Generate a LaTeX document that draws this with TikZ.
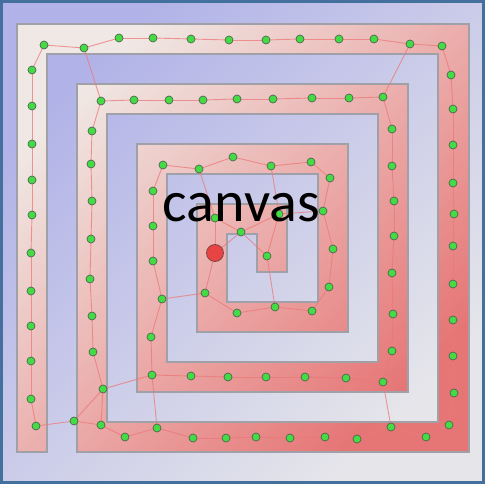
\documentclass[tikz,border=0pt]{standalone}
\usepackage{fontspec}
\setmainfont{Carlito}
\pgfdeclarelayer{bg}
\pgfdeclarelayer{edges}
\pgfsetlayers{bg,edges,main}
\definecolor{bgA}{RGB}{176,178,232}
\definecolor{bgB}{RGB}{230,230,234}
\definecolor{frameblue}{RGB}{68,112,158}
\definecolor{spA}{RGB}{240,232,228}
\definecolor{spB}{RGB}{230,118,118}
\definecolor{spborder}{RGB}{160,160,168}
\definecolor{nodegreen}{RGB}{68,220,68}
\definecolor{nodeborder}{RGB}{80,100,80}
\definecolor{dotred}{RGB}{232,68,68}
\definecolor{redborder}{RGB}{130,70,70}
\definecolor{edgered}{RGB}{236,120,120}
\begin{document}
\begin{tikzpicture}[x=1pt,y=-1pt,
  gn/.style={circle,draw=nodeborder,fill=nodegreen,line width=0.7pt,minimum size=8pt,inner sep=0pt},
  rn/.style={circle,draw=redborder,fill=dotred,line width=0.8pt,minimum size=17pt,inner sep=0pt},
  ed/.style={draw=edgered,line width=0.9pt,opacity=0.75},
  wall/.style={draw=spborder,line width=1.4pt,line join=miter}]
\useasboundingbox (0,0) rectangle (485,484);
\begin{pgfonlayer}{bg}
\shade[top color=bgA,bottom color=bgB,shading angle=45] (0,0) rectangle (485,484);
\draw[frameblue,line width=2.6pt] (1.3,1.3) rectangle (483.7,482.7);
\shade[top color=spA,bottom color=spB,shading angle=45]
 (17,452) -- (17,24) -- (469,24) -- (469,452) -- (77,452) -- (77,84) -- (408,84) -- (408,392) -- (137,392) -- (137,144) -- (348,144) -- (348,332) -- (197,332) -- (197,204) -- (287,204) -- (287,272) -- (257,272) -- (257,234) -- (227,234) -- (227,302) -- (318,302) -- (318,174) -- (167,174) -- (167,362) -- (378,362) -- (378,114) -- (107,114) -- (107,422) -- (438,422) -- (438,54) -- (47,54) -- (47,452) -- cycle;
\draw[wall]
 (17,452) -- (17,24) -- (469,24) -- (469,452) -- (77,452) -- (77,84) -- (408,84) -- (408,392) -- (137,392) -- (137,144) -- (348,144) -- (348,332) -- (197,332) -- (197,204) -- (287,204) -- (287,272) -- (257,272) -- (257,234) -- (227,234) -- (227,302) -- (318,302) -- (318,174) -- (167,174) -- (167,362) -- (378,362) -- (378,114) -- (107,114) -- (107,422) -- (438,422) -- (438,54) -- (47,54) -- (47,452) -- cycle;
\end{pgfonlayer}
% outer ring
\foreach \n/\x/\y in {1/44/45,2/84/48,3/119/38,4/153/38,5/191/39,6/229/40,7/266/40,8/300/39,9/339/39,10/374/39,11/410/44,12/442/46,13/451/75,14/453/109,15/453/145,16/453/183,17/454/214,18/453/246,19/453/284,20/453/320,21/453/356,22/454/393,23/449/425,24/426/437,25/391/427,26/357/439,27/325/437,28/290/438,29/256/437,30/226/438,31/193/438,32/157/428,33/125/437,34/101/425,35/74/421,36/36/426,37/31/399,38/31/361,39/31/326,40/31/291,41/31/253,42/32/215,43/32/180,44/32/144,45/32/106,46/32/70}
  \node[gn] (o\n) at (\x,\y) {};
% second ring
\foreach \n/\x/\y in {1/101/101,2/134/100,3/169/100,4/203/100,5/237/99,6/273/99,7/312/98,8/349/98,9/383/97,10/392/129,11/392/166,12/394/201,13/394/236,14/392/273,15/393/314,16/392/351,17/383/382,18/346/378,19/305/377,20/266/377,21/228/377,22/191/376,23/152/375,24/103/389,25/93/352,26/92/316,27/90/279,28/91/239,29/92/201,30/91/164,31/92/131}
  \node[gn] (s\n) at (\x,\y) {};
% third ring
\foreach \n/\x/\y in {1/163/165,2/199/169,3/233/157,4/271/166,5/311/162,6/330/178,7/323/211,8/333/249,9/329/287,10/312/311,11/275/307,12/237/313,13/205/293,14/162/299,15/153/261,16/153/226,17/153/191,18/151/337}
  \node[gn] (t\n) at (\x,\y) {};
% centre
\node[gn] (c1) at (215,218) {};
\node[gn] (c2) at (241,232) {};
\node[gn] (c3) at (267,256) {};
\node[gn] (h) at (279,214) {};
\node[rn] (r) at (215,253) {};
\begin{pgfonlayer}{edges}
\foreach \i in {1,...,45}{\pgfmathtruncatemacro\j{\i+1}\draw[ed] (o\i.center) -- (o\j.center);}
\draw[ed] (o46.center) -- (o1.center);
\foreach \i in {1,...,30}{\pgfmathtruncatemacro\j{\i+1}\draw[ed] (s\i.center) -- (s\j.center);}
\draw[ed] (s31.center) -- (s1.center);
\foreach \i in {1,...,16}{\pgfmathtruncatemacro\j{\i+1}\draw[ed] (t\i.center) -- (t\j.center);}
\draw[ed] (t17.center) -- (t1.center);
\foreach \a/\b in {o2/s1,o11/s9,o25/s17,o32/s23,o35/s24,s24/o34,t14/t18,t18/s23,t2/c1,c1/r,c1/c2,c2/r,c2/c3,c2/h,h/t7,h/t4,h/c3,c3/t11,r/t13}
  \draw[ed] (\a.center) -- (\b.center);
\end{pgfonlayer}
\node[font=\fontsize{58}{58}\selectfont,anchor=base,inner sep=0pt] (lbl) at (241.5,222) {canvas};
\end{tikzpicture}
\end{document}
